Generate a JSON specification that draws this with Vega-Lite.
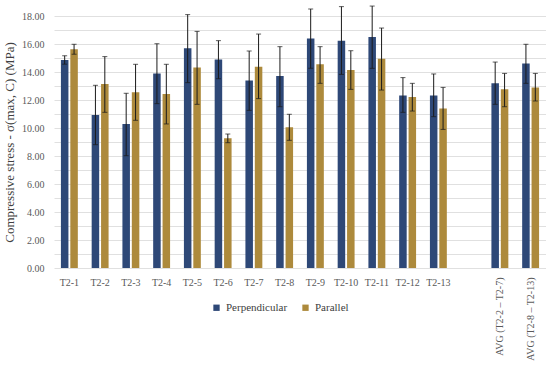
{
  "$schema": "https://vega.github.io/schema/vega-lite/v6.json",
  "width": 492,
  "height": 252,
  "padding": {"left": 3, "top": 5, "right": 0, "bottom": 0},
  "config": {
    "view": {"stroke": null},
    "font": "Liberation Serif",
    "style": {"guide-label": {"font": "Liberation Serif"}, "guide-title": {"font": "Liberation Serif"}},
    "axis": {"labelFont": "Liberation Serif", "titleFont": "Liberation Serif", "labelColor": "#595959", "titleColor": "#404040"},
    "legend": {"labelFont": "serif", "labelFontSize": 11, "labelColor": "#404040"}
  },
  "data": {
    "values": [
      {"cat": "T2-1", "dir": "Perpendicular", "v": 14.86, "lo": 14.56, "hi": 15.16},
      {"cat": "T2-1", "dir": "Parallel", "v": 15.62, "lo": 15.27, "hi": 15.98},
      {"cat": "T2-2", "dir": "Perpendicular", "v": 10.93, "lo": 8.81, "hi": 13.05},
      {"cat": "T2-2", "dir": "Parallel", "v": 13.14, "lo": 11.12, "hi": 15.1},
      {"cat": "T2-3", "dir": "Perpendicular", "v": 10.29, "lo": 8.02, "hi": 12.48},
      {"cat": "T2-3", "dir": "Parallel", "v": 12.55, "lo": 10.55, "hi": 14.55},
      {"cat": "T2-4", "dir": "Perpendicular", "v": 13.9, "lo": 11.74, "hi": 16.02},
      {"cat": "T2-4", "dir": "Parallel", "v": 12.43, "lo": 10.29, "hi": 14.55},
      {"cat": "T2-5", "dir": "Perpendicular", "v": 15.69, "lo": 13.24, "hi": 18.1},
      {"cat": "T2-5", "dir": "Parallel", "v": 14.33, "lo": 11.69, "hi": 16.9},
      {"cat": "T2-6", "dir": "Perpendicular", "v": 14.9, "lo": 13.52, "hi": 16.24},
      {"cat": "T2-6", "dir": "Parallel", "v": 9.26, "lo": 8.95, "hi": 9.57},
      {"cat": "T2-7", "dir": "Perpendicular", "v": 13.4, "lo": 11.26, "hi": 15.5},
      {"cat": "T2-7", "dir": "Parallel", "v": 14.38, "lo": 12.1, "hi": 16.71},
      {"cat": "T2-8", "dir": "Perpendicular", "v": 13.71, "lo": 11.52, "hi": 15.81},
      {"cat": "T2-8", "dir": "Parallel", "v": 10.05, "lo": 9.12, "hi": 10.98},
      {"cat": "T2-9", "dir": "Perpendicular", "v": 16.4, "lo": 14.26, "hi": 18.5},
      {"cat": "T2-9", "dir": "Parallel", "v": 14.55, "lo": 13.19, "hi": 15.81},
      {"cat": "T2-10", "dir": "Perpendicular", "v": 16.24, "lo": 13.83, "hi": 18.67},
      {"cat": "T2-10", "dir": "Parallel", "v": 14.14, "lo": 12.76, "hi": 15.52},
      {"cat": "T2-11", "dir": "Perpendicular", "v": 16.5, "lo": 14.26, "hi": 18.71},
      {"cat": "T2-11", "dir": "Parallel", "v": 14.95, "lo": 12.71, "hi": 17.14},
      {"cat": "T2-12", "dir": "Perpendicular", "v": 12.33, "lo": 11.12, "hi": 13.6},
      {"cat": "T2-12", "dir": "Parallel", "v": 12.21, "lo": 11.21, "hi": 13.19},
      {"cat": "T2-13", "dir": "Perpendicular", "v": 12.33, "lo": 10.81, "hi": 13.86},
      {"cat": "T2-13", "dir": "Parallel", "v": 11.4, "lo": 9.9, "hi": 12.9},
      {"cat": "AVG (T2-2 – T2-7)", "dir": "Perpendicular", "v": 13.19, "lo": 11.69, "hi": 14.71},
      {"cat": "AVG (T2-2 – T2-7)", "dir": "Parallel", "v": 12.76, "lo": 11.52, "hi": 13.9},
      {"cat": "AVG (T2-8 – T2-13)", "dir": "Perpendicular", "v": 14.6, "lo": 13.19, "hi": 15.98},
      {"cat": "AVG (T2-8 – T2-13)", "dir": "Parallel", "v": 12.9, "lo": 11.93, "hi": 13.9}
    ]
  },
  "encoding": {
    "x": {
      "field": "cat",
      "type": "nominal",
      "sort": null,
      "scale": {
        "domain": ["T2-1", "T2-2", "T2-3", "T2-4", "T2-5", "T2-6", "T2-7", "T2-8", "T2-9", "T2-10", "T2-11", "T2-12", "T2-13", " ", "AVG (T2-2 – T2-7)", "AVG (T2-8 – T2-13)"],
        "paddingInner": 0.45,
        "paddingOuter": 0.225
      },
      "axis": {
        "title": null,
        "domain": false,
        "ticks": false,
        "labelFontSize": 10,
        "labelPadding": 9,
        "labelOverlap": false,
        "labelLimit": 200,
        "labelAngle": {"expr": "indexof(datum.value, 'AVG') === 0 ? 270 : 0"},
        "labelAlign": {"condition": {"test": "indexof(datum.value, 'AVG') === 0", "value": "right"}, "value": "center"},
        "labelBaseline": {"condition": {"test": "indexof(datum.value, 'AVG') === 0", "value": "middle"}, "value": "top"}
      }
    },
    "xOffset": {
      "field": "dir",
      "type": "nominal",
      "sort": ["Perpendicular", "Parallel"],
      "scale": {"domain": ["Perpendicular", "Parallel"], "paddingInner": 0.2, "paddingOuter": 0}
    }
  },
  "layer": [
    {
      "mark": {"type": "bar"},
      "encoding": {
        "y": {
          "field": "v",
          "type": "quantitative",
          "scale": {"domain": [0, 18], "nice": false},
          "axis": {
            "title": "Compressive stress - σ(max, C) (MPa)",
            "titleFontSize": 13,
            "titleFontWeight": "normal",
            "titlePadding": 5,
            "labelFontSize": 10,
            "labelPadding": 10,
            "labelOverlap": false,
            "domain": false,
            "ticks": false,
            "values": [0, 1, 2, 3, 4, 5, 6, 7, 8, 9, 10, 11, 12, 13, 14, 15, 16, 17, 18],
            "labelExpr": "datum.value % 2 === 0 ? format(datum.value, '.2f') : ''",
            "gridColor": "#e0e0e0",
            "gridWidth": 1
          }
        },
        "color": {
          "field": "dir",
          "type": "nominal",
          "sort": ["Perpendicular", "Parallel"],
          "scale": {"domain": ["Perpendicular", "Parallel"], "range": ["#2e4877", "#ad8a3c"]},
          "legend": {
            "title": null,
            "orient": "none",
            "direction": "horizontal",
            "legendX": 157,
            "legendY": 286,
            "symbolType": "square",
            "symbolSize": 40,
            "symbolStrokeWidth": 0,
            "labelFontSize": 11,
            "labelColor": "#404040",
            "labelFont": "serif",
            "columnPadding": 12,
            "symbolOffset": 0
          }
        }
      }
    },
    {
      "mark": {"type": "rule", "color": "#1a1a1a", "strokeWidth": 1},
      "encoding": {
        "y": {
          "field": "lo",
          "type": "quantitative",
          "axis": {
            "title": "Compressive stress - σ(max, C) (MPa)",
            "titleFontSize": 13,
            "titleFontWeight": "normal",
            "titlePadding": 5,
            "labelFontSize": 10,
            "labelPadding": 10,
            "labelOverlap": false,
            "domain": false,
            "ticks": false,
            "values": [0, 1, 2, 3, 4, 5, 6, 7, 8, 9, 10, 11, 12, 13, 14, 15, 16, 17, 18],
            "labelExpr": "datum.value % 2 === 0 ? format(datum.value, '.2f') : ''",
            "gridColor": "#e0e0e0",
            "gridWidth": 1
          }
        },
        "y2": {"field": "hi"}
      }
    },
    {
      "mark": {"type": "tick", "color": "#1a1a1a", "thickness": 1, "size": 5},
      "encoding": {
        "y": {
          "field": "lo",
          "type": "quantitative",
          "axis": {
            "title": "Compressive stress - σ(max, C) (MPa)",
            "titleFontSize": 13,
            "titleFontWeight": "normal",
            "titlePadding": 5,
            "labelFontSize": 10,
            "labelPadding": 10,
            "labelOverlap": false,
            "domain": false,
            "ticks": false,
            "values": [0, 1, 2, 3, 4, 5, 6, 7, 8, 9, 10, 11, 12, 13, 14, 15, 16, 17, 18],
            "labelExpr": "datum.value % 2 === 0 ? format(datum.value, '.2f') : ''",
            "gridColor": "#e0e0e0",
            "gridWidth": 1
          }
        }
      }
    },
    {
      "mark": {"type": "tick", "color": "#1a1a1a", "thickness": 1, "size": 5},
      "encoding": {
        "y": {
          "field": "hi",
          "type": "quantitative",
          "axis": {
            "title": "Compressive stress - σ(max, C) (MPa)",
            "titleFontSize": 13,
            "titleFontWeight": "normal",
            "titlePadding": 5,
            "labelFontSize": 10,
            "labelPadding": 10,
            "labelOverlap": false,
            "domain": false,
            "ticks": false,
            "values": [0, 1, 2, 3, 4, 5, 6, 7, 8, 9, 10, 11, 12, 13, 14, 15, 16, 17, 18],
            "labelExpr": "datum.value % 2 === 0 ? format(datum.value, '.2f') : ''",
            "gridColor": "#e0e0e0",
            "gridWidth": 1
          }
        }
      }
    }
  ]
}
